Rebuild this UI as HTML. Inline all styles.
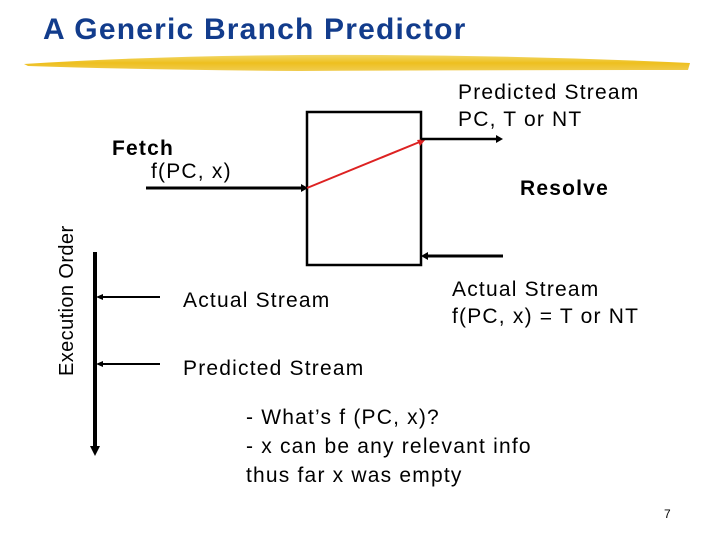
<!DOCTYPE html>
<html><head><style>
body{margin:0;width:720px;height:540px;background:#fff;position:relative;overflow:hidden;font-family:"Liberation Sans",sans-serif;}
.t{position:absolute;white-space:nowrap;color:#000;font-size:21px;letter-spacing:1.2px;}
</style></head><body>
<div class="t" style="left:43px;top:13px;font-size:30px;font-weight:bold;color:#123c8c;letter-spacing:1.2px">A Generic Branch Predictor</div>
<svg width="720" height="540" style="position:absolute;left:0;top:0">
<defs>
<linearGradient id="y" x1="0" y1="0" x2="0" y2="1"><stop offset="0" stop-color="#f2d86a"/><stop offset="0.5" stop-color="#eebf1e"/><stop offset="1" stop-color="#f0cc50"/></linearGradient>
</defs>
<path d="M24,64 Q150,56 300,55 Q500,54 690,63 L688,70 Q500,70 300,71 Q150,70 28,66 Z" fill="url(#y)"/>
<rect x="307" y="112" width="114" height="153" fill="none" stroke="#000" stroke-width="2.5"/>
<line x1="146" y1="188" x2="303" y2="188" stroke="#000" stroke-width="3"/>
<polygon points="308,188 301,184 301,192" fill="#000"/>
<line x1="307" y1="188" x2="422" y2="141" stroke="#d22" stroke-width="2"/>
<polygon points="426,139 417,140 420,146" fill="#d22"/>
<line x1="421" y1="139" x2="497" y2="139" stroke="#000" stroke-width="2.5"/>
<polygon points="503,139 496,135 496,143" fill="#000"/>
<line x1="426" y1="256" x2="503" y2="256" stroke="#000" stroke-width="3"/>
<polygon points="421,256 428,252 428,260" fill="#000"/>
<line x1="95" y1="252" x2="95" y2="448" stroke="#000" stroke-width="4"/>
<polygon points="95,456 90,446 100,446" fill="#000"/>
<line x1="100" y1="297" x2="160" y2="297" stroke="#000" stroke-width="2"/>
<polygon points="96,297 103,294 103,300" fill="#000"/>
<line x1="100" y1="364" x2="160" y2="364" stroke="#000" stroke-width="2"/>
<polygon points="96,364 103,361 103,367" fill="#000"/>
<text x="73" y="376" transform="rotate(-90 73 376)" font-family="Liberation Sans, sans-serif" font-size="20" letter-spacing="0.4">Execution Order</text>
</svg>
<div class="t" style="left:458px;top:79px;line-height:27px">Predicted Stream<br>PC, T or NT</div>
<div class="t" style="left:112px;top:137px;font-weight:bold">Fetch</div>
<div class="t" style="left:151px;top:160px">f(PC, x)</div>
<div class="t" style="left:520px;top:177px;font-weight:bold">Resolve</div>
<div class="t" style="left:183px;top:289px">Actual Stream</div>
<div class="t" style="left:452px;top:276px;line-height:27px">Actual Stream<br>f(PC, x) = T or NT</div>
<div class="t" style="left:183px;top:357px">Predicted Stream</div>
<div class="t" style="left:246px;top:403px;line-height:29px">- What’s f (PC, x)?<br>- x can be any relevant info<br>thus far x was empty</div>
<div class="t" style="left:664px;top:507px;font-size:12px;letter-spacing:0">7</div>
</body></html>
